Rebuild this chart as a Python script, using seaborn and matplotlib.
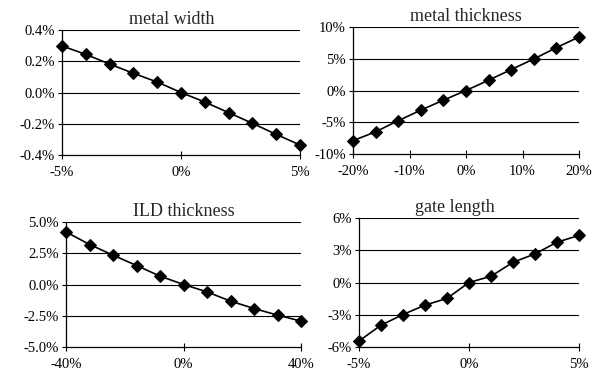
import matplotlib
matplotlib.use("Agg")
import matplotlib.pyplot as plt
import seaborn as sns
from matplotlib.ticker import FuncFormatter

# Data (percent values)
width_x = [-5, -4, -3, -2, -1, 0, 1, 2, 3, 4, 5]
width_y = [0.298, 0.244, 0.182, 0.123, 0.067, 0.0, -0.061, -0.129, -0.197, -0.268, -0.336]

mthick_x = [-20, -16, -12, -8, -4, 0, 4, 8, 12, 16, 20]
mthick_y = [-7.9, -6.5, -4.76, -3.09, -1.52, 0.0, 1.62, 3.30, 4.97, 6.75, 8.43]

ild_x = [-40, -32, -24, -16, -8, 0, 8, 16, 24, 32, 40]
ild_y = [4.21, 3.2, 2.35, 1.52, 0.67, 0.0, -0.59, -1.33, -1.92, -2.45, -2.93]

gate_x = [-5, -4, -3, -2, -1, 0, 1, 2, 3, 4, 5]
gate_y = [-5.44, -3.97, -2.98, -2.10, -1.48, 0.0, 0.58, 1.88, 2.66, 3.75, 4.38]

sns.set_style("white")
plt.rcParams['font.family'] = ['Liberation Serif', 'DejaVu Serif']

W, H = 605, 373
fig = plt.figure(figsize=(W / 100, H / 100), dpi=100)


def box(l, t, r, b):
    return [l / W, 1 - b / H, (r - l) / W, (b - t) / H]


panels = [
    ("metal width", width_x, width_y, box(62, 30, 300, 155),
     [-5, 0, 5], [-0.4, -0.2, 0.0, 0.2, 0.4], "{:.1f}%", 0.462),
    ("metal thickness", mthick_x, mthick_y, box(353, 27, 579, 154),
     [-20, -10, 0, 10, 20], [-10, -5, 0, 5, 10], "{:.0f}%", 0.5),
    ("ILD thickness", ild_x, ild_y, box(66, 222, 301, 347),
     [-40, 0, 40], [-5.0, -2.5, 0.0, 2.5, 5.0], "{:.1f}%", 0.5),
    ("gate length", gate_x, gate_y, box(359, 218, 579, 347),
     [-5, 0, 5], [-6, -3, 0, 3, 6], "{:.0f}%", 0.437),
]

for title, xs, ys, rect, xt, yt, yfmt, tx in panels:
    ax = fig.add_axes(rect)
    sns.lineplot(x=xs, y=ys, ax=ax, color="black", marker="D", markersize=6,
                 markeredgecolor="black", linewidth=1.2, clip_on=False, zorder=3)
    ax.set_xlim(xt[0], xt[-1])
    ax.set_ylim(yt[0], yt[-1])
    ax.set_xticks(xt)
    ax.set_yticks(yt)
    ax.xaxis.set_major_formatter(FuncFormatter(lambda v, p: "{:.0f}%".format(v)))
    ax.yaxis.set_major_formatter(FuncFormatter(lambda v, p, f=yfmt: f.format(v + 0.0)))
    for y in yt[1:]:
        ax.axhline(y, color="black", linewidth=0.8, zorder=0)
    for s in ["top", "right"]:
        ax.spines[s].set_visible(False)
    for s in ["left", "bottom"]:
        ax.spines[s].set_color("black")
        ax.spines[s].set_linewidth(0.9)
    ax.tick_params(axis="y", direction="out", length=3, width=0.8, pad=2,
                   labelsize=10.5, left=True, colors="black")
    ax.tick_params(axis="x", direction="inout", length=6, width=0.8, pad=5,
                   labelsize=10.5, bottom=True, colors="black")
    ax.set_xlabel("")
    ax.set_ylabel("")
    ax.set_title(title, fontsize=13, x=tx, pad=4)

fig.savefig("out.png", dpi=100)
